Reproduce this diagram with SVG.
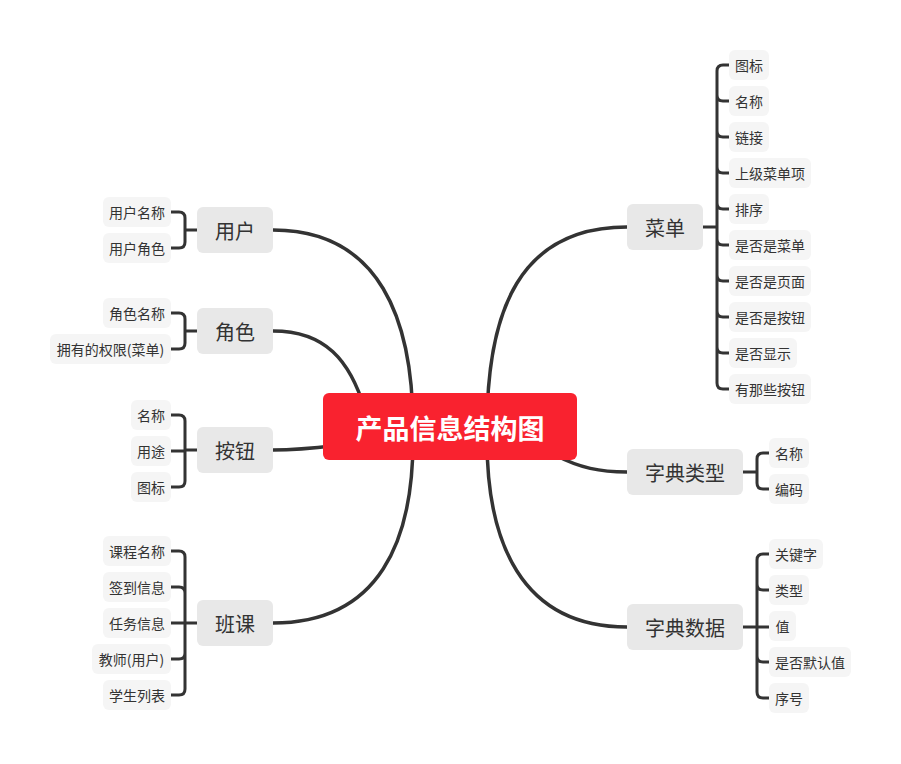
<svg xmlns="http://www.w3.org/2000/svg" width="901" height="764" viewBox="0 0 901 764">
<style>
.bg{fill:#ffffff}
.c{fill:none;stroke:#333333;stroke-width:3.5;stroke-linecap:round;stroke-linejoin:round}
.b{fill:none;stroke:#333333;stroke-width:3;stroke-linecap:round;stroke-linejoin:round}
.root rect{fill:#F9222F}
.root text{fill:#ffffff;font-size:27px;font-weight:bold}
.main rect{fill:#e8e8e8}
.main text{fill:#333333;font-size:20px}
.leaf rect{fill:#f5f5f5}
.leaf text{fill:#333333;font-size:14px}
text{font-family:"Noto Sans CJK SC","Noto Sans",sans-serif;text-anchor:middle;dominant-baseline:central}
</style>
<rect class="bg" x="0" y="0" width="901" height="764"/>
<g id="connectors">
<path class="c" d="M273,230 C380,230 413,320 413,428"/>
<path class="c" d="M273,331 C325,331 350,360 365,410"/>
<path class="c" d="M273,450 C300,450 315,448 340,445"/>
<path class="c" d="M273,623 C380,623 413,540 413,440"/>
<path class="c" d="M627,227 C520,227 487,310 487,428"/>
<path class="c" d="M627,472 C600,472 580,468 555,455"/>
<path class="c" d="M627,627 C520,627 487,540 487,440"/>
<!-- left brackets -->
<path class="b" d="M171,212 H179 Q185,212 185,218 V242 Q185,248 179,248 H171 M185,230 H197"/>
<path class="b" d="M171,313 H179 Q185,313 185,319 V343 Q185,349 179,349 H171 M185,331 H197"/>
<path class="b" d="M171,415 H179 Q185,415 185,421 V481 Q185,487 179,487 H171 M171,451 H185 M185,450 H197"/>
<path class="b" d="M171,551 H179 Q185,551 185,557 V689 Q185,695 179,695 H171 M171,587 H179 Q185,587 185,593 M171,623 H197 M171,659 H179 Q185,659 185,653"/>
<!-- right brackets -->
<path class="b" d="M729,65 H723 Q717,65 717,71 V383 Q717,389 723,389 H729 M703,227 H717 M717,95 Q717,101 723,101 H729 M717,131 Q717,137 723,137 H729 M717,167 Q717,173 723,173 H729 M717,203 Q717,209 723,209 H729 M717,239 Q717,245 723,245 H729 M717,275 Q717,281 723,281 H729 M717,311 Q717,317 723,317 H729 M717,347 Q717,353 723,353 H729"/>
<path class="b" d="M769,453 H763 Q757,453 757,459 V483 Q757,489 763,489 H769 M743,472 H757"/>
<path class="b" d="M769,554 H763 Q757,554 757,560 V692 Q757,698 763,698 H769 M743,627 H769 M757,584 Q757,590 763,590 H769 M757,656 Q757,662 763,662 H769"/>
</g>
<g id="root" class="root"><rect x="323" y="393" width="254" height="67" rx="6"/><text x="450" y="427">产品信息结构图</text></g>
<g id="n-yonghu" class="main"><rect x="197" y="207" width="76" height="46" rx="6"/><text x="235" y="230">用户</text></g>
<g id="n-juese" class="main"><rect x="197" y="308" width="76" height="46" rx="6"/><text x="235" y="331">角色</text></g>
<g id="n-anniu" class="main"><rect x="197" y="427" width="76" height="46" rx="6"/><text x="235" y="450">按钮</text></g>
<g id="n-banke" class="main"><rect x="197" y="600" width="76" height="46" rx="6"/><text x="235" y="623">班课</text></g>
<g id="n-caidan" class="main"><rect x="627" y="204" width="76" height="46" rx="6"/><text x="665" y="227">菜单</text></g>
<g id="n-zdlx" class="main"><rect x="627" y="449" width="116" height="46" rx="6"/><text x="685" y="472">字典类型</text></g>
<g id="n-zdsj" class="main"><rect x="627" y="604" width="116" height="46" rx="6"/><text x="685" y="627">字典数据</text></g>
<!-- left leaves -->
<g id="l-yhmc" class="leaf"><rect x="103" y="197" width="68" height="30" rx="6"/><text x="137" y="212">用户名称</text></g>
<g id="l-yhjs" class="leaf"><rect x="103" y="233" width="68" height="30" rx="6"/><text x="137" y="248">用户角色</text></g>
<g id="l-jsmc" class="leaf"><rect x="103" y="298" width="68" height="30" rx="6"/><text x="137" y="313">角色名称</text></g>
<g id="l-yydqx" class="leaf"><rect x="50" y="334" width="121" height="30" rx="6"/><text x="110.5" y="349">拥有的权限(菜单)</text></g>
<g id="l-an-mc" class="leaf"><rect x="131" y="400" width="40" height="30" rx="6"/><text x="151" y="415">名称</text></g>
<g id="l-an-yt" class="leaf"><rect x="131" y="436" width="40" height="30" rx="6"/><text x="151" y="451">用途</text></g>
<g id="l-an-tb" class="leaf"><rect x="131" y="472" width="40" height="30" rx="6"/><text x="151" y="487">图标</text></g>
<g id="l-kcmc" class="leaf"><rect x="103" y="536" width="68" height="30" rx="6"/><text x="137" y="551">课程名称</text></g>
<g id="l-qdxx" class="leaf"><rect x="103" y="572" width="68" height="30" rx="6"/><text x="137" y="587">签到信息</text></g>
<g id="l-rwxx" class="leaf"><rect x="103" y="608" width="68" height="30" rx="6"/><text x="137" y="623">任务信息</text></g>
<g id="l-js" class="leaf"><rect x="92" y="644" width="79" height="30" rx="6"/><text x="131.5" y="659">教师(用户)</text></g>
<g id="l-xslb" class="leaf"><rect x="103" y="680" width="68" height="30" rx="6"/><text x="137" y="695">学生列表</text></g>
<!-- menu leaves -->
<g id="r-tb" class="leaf"><rect x="729" y="50" width="40" height="30" rx="6"/><text x="749" y="65">图标</text></g>
<g id="r-mc" class="leaf"><rect x="729" y="86" width="40" height="30" rx="6"/><text x="749" y="101">名称</text></g>
<g id="r-lj" class="leaf"><rect x="729" y="122" width="40" height="30" rx="6"/><text x="749" y="137">链接</text></g>
<g id="r-sjcdx" class="leaf"><rect x="729" y="158" width="82" height="30" rx="6"/><text x="770" y="173">上级菜单项</text></g>
<g id="r-px" class="leaf"><rect x="729" y="194" width="40" height="30" rx="6"/><text x="749" y="209">排序</text></g>
<g id="r-sfscd" class="leaf"><rect x="729" y="230" width="82" height="30" rx="6"/><text x="770" y="245">是否是菜单</text></g>
<g id="r-sfsym" class="leaf"><rect x="729" y="266" width="82" height="30" rx="6"/><text x="770" y="281">是否是页面</text></g>
<g id="r-sfsan" class="leaf"><rect x="729" y="302" width="82" height="30" rx="6"/><text x="770" y="317">是否是按钮</text></g>
<g id="r-sfxs" class="leaf"><rect x="729" y="338" width="68" height="30" rx="6"/><text x="763" y="353">是否显示</text></g>
<g id="r-ynxan" class="leaf"><rect x="729" y="374" width="82" height="30" rx="6"/><text x="770" y="389">有那些按钮</text></g>
<!-- dict type leaves -->
<g id="r-lx-mc" class="leaf"><rect x="769" y="438" width="40" height="30" rx="6"/><text x="789" y="453">名称</text></g>
<g id="r-lx-bm" class="leaf"><rect x="769" y="474" width="40" height="30" rx="6"/><text x="789" y="489">编码</text></g>
<!-- dict data leaves -->
<g id="r-gjz" class="leaf"><rect x="769" y="539" width="54" height="30" rx="6"/><text x="796" y="554">关键字</text></g>
<g id="r-lx" class="leaf"><rect x="769" y="575" width="40" height="30" rx="6"/><text x="789" y="590">类型</text></g>
<g id="r-z" class="leaf"><rect x="769" y="611" width="27" height="30" rx="6"/><text x="782.5" y="626">值</text></g>
<g id="r-sfmrz" class="leaf"><rect x="769" y="647" width="82" height="30" rx="6"/><text x="810" y="662">是否默认值</text></g>
<g id="r-xh" class="leaf"><rect x="769" y="683" width="40" height="30" rx="6"/><text x="789" y="698">序号</text></g>
</svg>
